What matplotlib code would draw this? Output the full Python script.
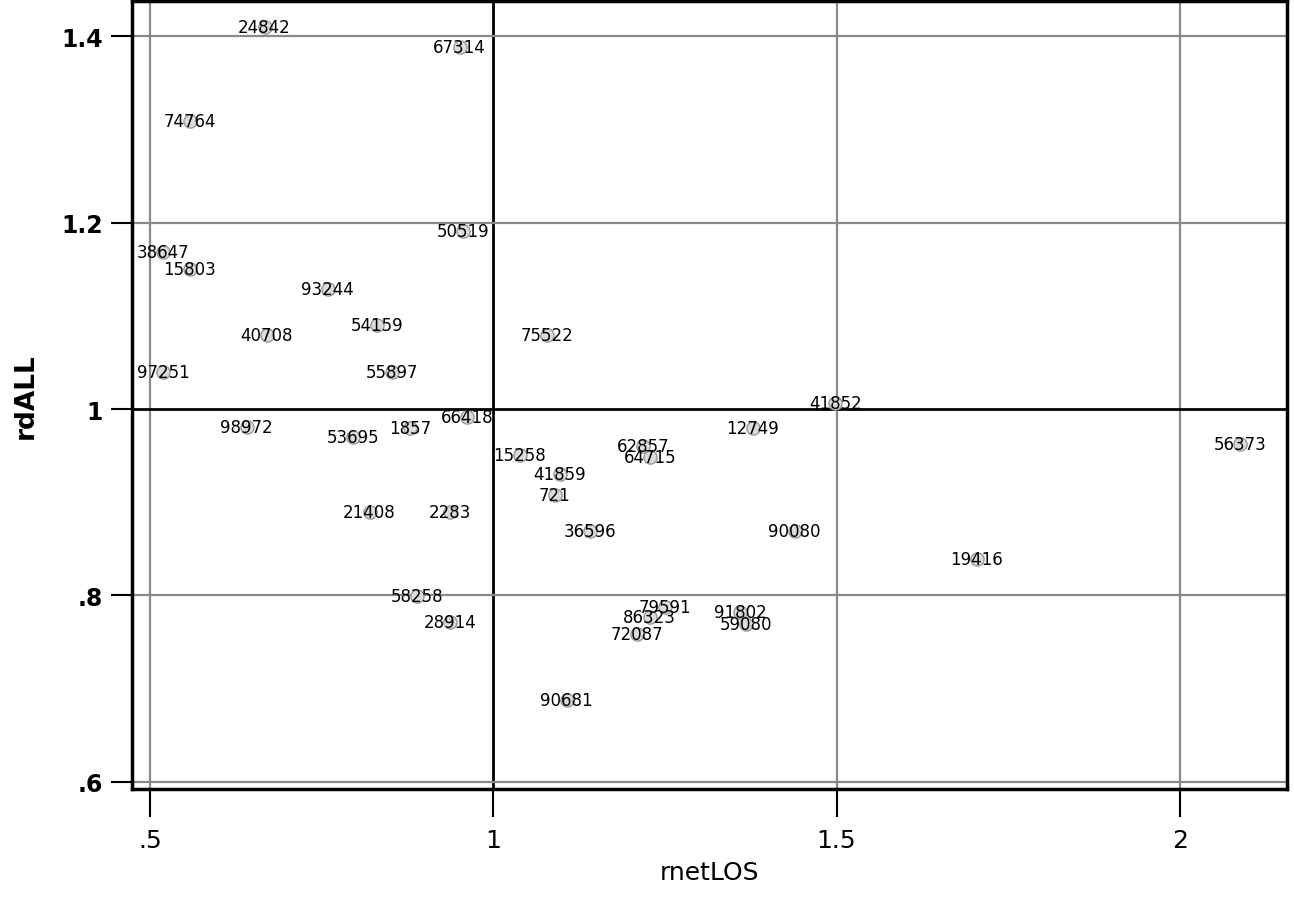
import matplotlib
matplotlib.use('Agg')
import matplotlib.pyplot as plt

# point ids and coordinates
ids = ['24842', '67314', '74764', '38647', '15803', '93244', '54159', '40708',
       '97251', '55897', '50519', '66418', '98972', '1857', '53695', '21408',
       '2283', '58258', '28914', '75522', '41852', '12749', '15258', '62857',
       '64715', '41859', '721', '36596', '90080', '19416', '56373', '79591',
       '86323', '72087', '91802', '59080', '90681']
rnetLOS = [0.667, 0.951, 0.558, 0.519, 0.558, 0.759, 0.831, 0.670,
           0.519, 0.852, 0.956, 0.962, 0.641, 0.879, 0.796, 0.820,
           0.937, 0.889, 0.937, 1.078, 1.498, 1.378, 1.039, 1.218,
           1.228, 1.097, 1.090, 1.141, 1.439, 1.704, 2.087, 1.250,
           1.228, 1.209, 1.360, 1.368, 1.107]
rdALL = [1.410, 1.389, 1.309, 1.169, 1.150, 1.129, 1.090, 1.080,
         1.040, 1.040, 1.191, 0.991, 0.981, 0.980, 0.970, 0.889,
         0.889, 0.799, 0.771, 1.080, 1.007, 0.980, 0.951, 0.960,
         0.949, 0.930, 0.908, 0.869, 0.869, 0.839, 0.962, 0.787,
         0.777, 0.758, 0.782, 0.769, 0.688]

xticks = [0.5, 1, 1.5, 2]
xlabels = ['.5', '1', '1.5', '2']
yticks = [0.6, 0.8, 1.0, 1.2, 1.4]
ylabels = ['.6', '.8', '1', '1.2', '1.4']

fig = plt.figure(figsize=(12.94, 9.03), dpi=100)
ax = fig.add_axes([0.102, 0.125, 0.8926, 0.8728])

# reference grid
for xv in xticks:
    if xv == 1:
        ax.axvline(xv, color='black', lw=2.0, zorder=1)
    else:
        ax.axvline(xv, color='#8a8a8a', lw=1.6, zorder=1)
for yv in yticks:
    if yv == 1.0:
        ax.axhline(yv, color='black', lw=2.0, zorder=1)
    else:
        ax.axhline(yv, color='#8a8a8a', lw=1.6, zorder=1)

ax.scatter(rnetLOS, rdALL, s=90, facecolors='#dcdcdc', edgecolors='#999999',
           linewidths=1.0, zorder=2)
for lab, xv, yv in zip(ids, rnetLOS, rdALL):
    ax.text(xv, yv, lab, fontsize=12, ha='center', va='center',
            color='black', zorder=3)

ax.set_xlim(0.474, 2.156)
ax.set_ylim(0.592, 1.438)
ax.set_xticks(xticks)
ax.set_xticklabels(xlabels, fontsize=18)
ax.set_yticks(yticks)
ax.set_yticklabels(ylabels, fontsize=17, fontweight='bold')
ax.tick_params(axis='x', length=20, width=1.5, pad=8)
ax.tick_params(axis='y', length=15, width=1.5, pad=6)
for sp in ax.spines.values():
    sp.set_linewidth(2.5)

ax.set_xlabel('rnetLOS', fontsize=18, labelpad=6)
ax.set_ylabel('rdALL', fontsize=19, fontweight='bold', labelpad=16)

plt.savefig('out.png', dpi=100)
